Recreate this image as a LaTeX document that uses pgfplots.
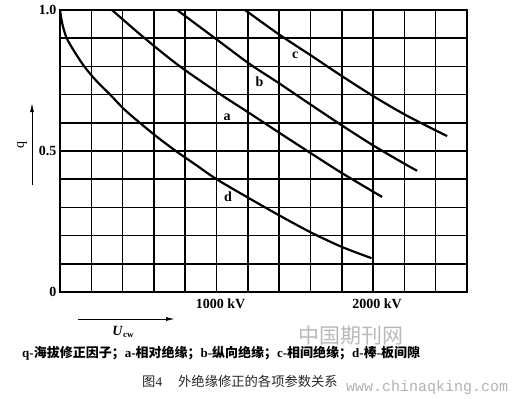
\documentclass[border=0pt]{standalone}
\usepackage{pgfplots}
\pgfplotsset{compat=1.18}
\usetikzlibrary{arrows.meta}
\usepackage{fontspec}
\setmainfont{Liberation Serif}
\newfontfamily\cjk{Noto Sans CJK SC}
\newfontfamily\wm{Liberation Mono}
\begin{document}
\begin{tikzpicture}[x=1pt,y=1pt]
\path[use as bounding box] (0,0) rectangle (517,-399);
\begin{axis}[
  at={(60pt,-292pt)}, anchor=south west,
  scale only axis, width=407pt, height=282pt,
  xmin=0, xmax=2600, ymin=0, ymax=1,
  xtick={0,200,400,600,800,1000,1200,1400,1600,1800,2000,2200,2400,2600},
  xticklabels={,,,,,1000 kV,,,,,2000 kV,,,},
  ytick={0,0.1,0.2,0.3,0.4,0.5,0.6,0.7,0.8,0.9,1},
  yticklabels={0,,,,,0.5,,,,,1.0},
  grid=major,
  major grid style={black, line width=1.5pt},
  axis line style={black, line width=1.6pt},
  major tick length=0pt,
  tick label style={font=\bfseries\fontsize{14}{14}\selectfont},
  xticklabel style={xshift=4pt, yshift=-3pt},
  clip=false,
]
\addplot[black, line width=2.2pt, smooth, tension=0.5] coordinates {
(0,1.0) (15,0.95) (43,0.9) (95,0.85) (155,0.8) (230,0.75) (320,0.7) (410,0.648) (510,0.6) (620,0.55) (740,0.5) (870,0.45) (1000,0.4) (1200,0.335) (1400,0.272) (1600,0.212) (1800,0.16) (1990,0.12)};
\addplot[black, line width=2.2pt, smooth, tension=0.5] coordinates {
(332,1.0) (530,0.905) (754,0.805) (1000,0.71) (1200,0.638) (1400,0.565) (1600,0.493) (1800,0.422) (2000,0.356) (2058,0.337)};
\addplot[black, line width=2.2pt, smooth, tension=0.5] coordinates {
(748,1.0) (990,0.9) (1208,0.81) (1400,0.74) (1600,0.665) (1800,0.591) (2000,0.52) (2200,0.455) (2281,0.43)};
\addplot[black, line width=2.2pt, smooth, tension=0.5] coordinates {
(1182,1.0) (1400,0.913) (1600,0.84) (1800,0.766) (2000,0.695) (2200,0.63) (2400,0.573) (2473,0.553)};
\node[font=\bfseries\fontsize{14}{14}\selectfont] at (axis cs:1067,0.62) {a};
\node[font=\bfseries\fontsize{14}{14}\selectfont] at (axis cs:1275,0.745) {b};
\node[font=\bfseries\fontsize{14}{14}\selectfont] at (axis cs:1502,0.84) {c};
\node[font=\bfseries\fontsize{14}{14}\selectfont] at (axis cs:1074,0.337) {d};
\end{axis}
% y-axis label with arrow
\draw[-{Latex[length=9pt,width=4pt]}, line width=1pt] (32,-185) -- (32,-103);
\node[rotate=90, font=\fontsize{14}{14}\selectfont] at (22,-145) {q};
% x-axis label with arrow
\draw[-{Latex[length=9pt,width=4pt]}, line width=1pt] (78,-319) -- (175,-319);
\node[font=\fontsize{14}{14}\selectfont] at (123,-332) {\textbf{\textit{U}}\raisebox{-2.5pt}{\fontsize{9}{9}\selectfont\bfseries cw}};
% watermark
\node[text=gray!55, font=\cjk\fontsize{21}{21}\selectfont, inner sep=0pt] at (351,-336) {中国期刊网};
% captions
\node[anchor=west, font=\bfseries\fontsize{13}{13}\selectfont, inner sep=0pt] at (22,-353) {q-{\cjk 海拔修正因子；}a-{\cjk 相对绝缘；}b-{\cjk 纵向绝缘；}c-{\cjk 相间绝缘；}d-{\cjk 棒}-{\cjk 板间隙}};
\node[anchor=west, text=black!85, font=\fontsize{13.3}{14}\selectfont, inner sep=0pt] at (142,-381) {{\cjk 图}4\hspace{16pt}{\cjk 外绝缘修正的各项参数关系}};
\node[anchor=west, text=gray!60, font=\wm\fontsize{15}{15}\selectfont, inner sep=0pt] at (346,-388) {www.chinaqking.com};
\end{tikzpicture}
\end{document}
